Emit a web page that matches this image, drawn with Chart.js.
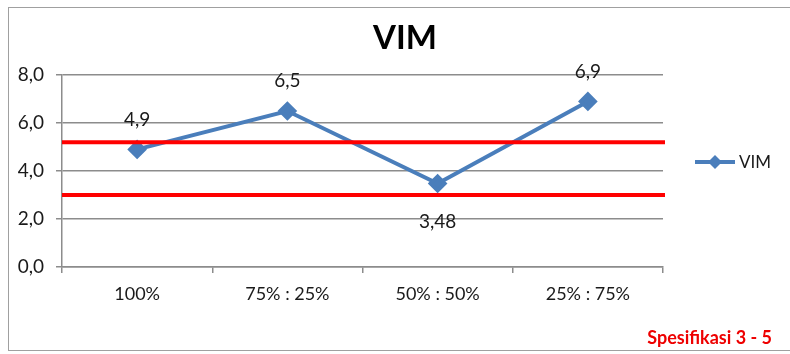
<!DOCTYPE html>
<html>
<head>
<meta charset="utf-8">
<script src="https://cdn.jsdelivr.net/npm/chart.js@4.4.0/dist/chart.umd.min.js"></script>
<style>
  body { margin: 0; background: #fff; }
  #wrap { position: relative; width: 790px; height: 354px; }
  #frame { position: absolute; left: 8px; top: 7px; width: 800px; height: 344px; border: 1.5px solid #a0a0a0; box-sizing: border-box; }
  canvas { position: absolute; left: 0; top: 0; }
</style>
</head>
<body>
<div id="wrap">
  <div id="frame"></div>
  <canvas id="myChart" width="790" height="354"></canvas>
</div>
<script>
// data ---------------------------------------------
const categories = ["100%", "75% : 25%", "50% : 50%", "25% : 75%"];
const vimValues = [4.9, 6.5, 3.48, 6.9];
const specLines = [5.2, 3.0];
const yTicks = [0, 2, 4, 6, 8];

const font = "Lato, 'Liberation Sans', sans-serif";
const blue = "#4a7ebb";
const grey = "#8c8c8c";

function comma(v, d) {
  return String(d === undefined ? v : v.toFixed(d)).replace(".", ",");
}

// extra drawing: spec lines, labels, title, legend
const extras = {
  id: "extras",
  afterDatasetsDraw(chart) {
    const ctx = chart.ctx;
    const area = chart.chartArea;
    const y = chart.scales.y;
    ctx.save();
    ctx.strokeStyle = "#ff0000";
    ctx.lineWidth = 4;
    specLines.forEach((v) => {
      const py = y.getPixelForValue(v);
      ctx.beginPath();
      ctx.moveTo(area.left, py);
      ctx.lineTo(area.right + 2, py);
      ctx.stroke();
    });

    // data labels
    const meta = chart.getDatasetMeta(0);
    ctx.fillStyle = "#1a1a1a";
    ctx.font = "19px " + font;
    ctx.textAlign = "center";
    ctx.textBaseline = "middle";
    meta.data.forEach((pt, i) => {
      const v = vimValues[i];
      const below = v < Math.min(...specLines) + 1;
      ctx.fillText(comma(v), pt.x, below ? pt.y + 38 : pt.y - 30);
    });

    // title
    ctx.fillStyle = "#000";
    ctx.font = "bold 33px " + font;
    ctx.fillText("VIM", 405, 38);

    // legend
    const ly = 162;
    ctx.strokeStyle = blue;
    ctx.lineWidth = 4;
    ctx.beginPath();
    ctx.moveTo(695, ly);
    ctx.lineTo(735, ly);
    ctx.stroke();
    ctx.fillStyle = blue;
    ctx.beginPath();
    ctx.moveTo(715, ly - 7);
    ctx.lineTo(722, ly);
    ctx.lineTo(715, ly + 7);
    ctx.lineTo(708, ly);
    ctx.closePath();
    ctx.fill();
    ctx.fillStyle = "#1a1a1a";
    ctx.font = "17px " + font;
    ctx.textAlign = "left";
    ctx.fillText("VIM", 739, ly + 1);

    // note
    ctx.fillStyle = "#ee0000";
    ctx.font = "bold 18px " + font;
    ctx.textAlign = "right";
    ctx.fillText("Spesifikasi 3 - 5", 772, 338);
    ctx.restore();
  },
};

const ctx = document.getElementById("myChart").getContext("2d");
const myChart = new Chart(ctx, {
  type: "line",
  data: {
    labels: categories,
    datasets: [
      {
        label: "VIM",
        data: vimValues,
        borderColor: blue,
        backgroundColor: blue,
        borderWidth: 4,
        pointStyle: "rectRot",
        pointRadius: 7,
        pointHoverRadius: 7,
        tension: 0,
      },
    ],
  },
  options: {
    responsive: false,
    animation: false,
    layout: { padding: { left: 8, right: 127, top: 75, bottom: 0 } },
    plugins: {
      legend: { display: false },
      title: { display: false },
      tooltip: { enabled: false },
    },
    scales: {
      x: {
        offset: true,
        afterFit: (s) => { s.height = 87; },
        grid: { offset: true, drawOnChartArea: false, drawTicks: true, tickLength: 6, color: grey, lineWidth: 1.5 },
        border: { color: grey, width: 1.5 },
        ticks: { padding: 10, color: "#1a1a1a", font: { family: font, size: 18 } },
      },
      y: {
        min: 0,
        max: 8,
        afterFit: (s) => { s.width = 54; },
        afterBuildTicks: (s) => { s.ticks = yTicks.map((v) => ({ value: v })); },
        grid: { color: grey, lineWidth: 1.5, tickLength: 6 },
        border: { color: grey, width: 1.5 },
        ticks: {
          padding: 12,
          color: "#1a1a1a",
          font: { family: font, size: 19 },
          callback: (v) => comma(v, 1),
        },
      },
    },
  },
  plugins: [extras],
});
</script>
</body>
</html>
